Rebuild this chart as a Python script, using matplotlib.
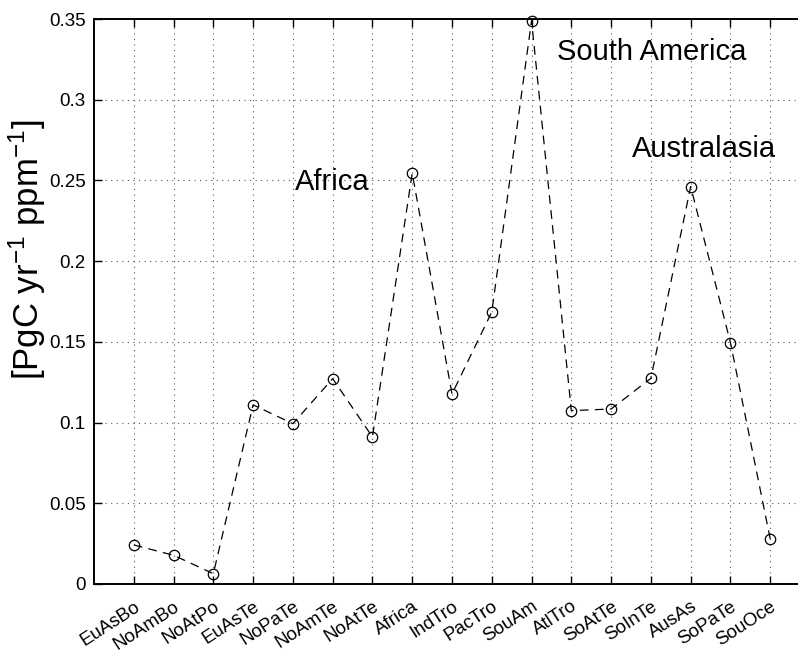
import matplotlib
matplotlib.use('Agg')
import matplotlib.pyplot as plt

regions = ['EuAsBo', 'NoAmBo', 'NoAtPo', 'EuAsTe', 'NoPaTe', 'NoAmTe', 'NoAtTe',
           'Africa', 'IndTro', 'PacTro', 'SouAm', 'AtlTro', 'SoAtTe', 'SoInTe',
           'AusAs', 'SoPaTe', 'SouOce']
values = [0.0242, 0.0178, 0.0064, 0.111, 0.0993, 0.1272, 0.0911,
          0.2545, 0.1177, 0.1685, 0.349, 0.1074, 0.1084, 0.1274,
          0.2462, 0.1495, 0.0279]
yticks = [0, 0.05, 0.1, 0.15, 0.2, 0.25, 0.3, 0.35]
annotations = [('Africa', 5.05, 0.2441), ('South America', 11.64, 0.3247),
               ('Australasia', 13.52, 0.2646)]

plt.rcParams['font.family'] = ['Liberation Sans', 'DejaVu Sans']
plt.rcParams['mathtext.default'] = 'regular'

fig = plt.figure(figsize=(7.98, 6.5), dpi=100)
ax = fig.add_axes([94 / 798, 66 / 650, 716 / 798, 565 / 650])

x = list(range(1, len(regions) + 1))
ax.plot(x, values, 'k--', linewidth=0.9, dashes=(7, 5),
        marker='o', markersize=7.5, markerfacecolor='none',
        markeredgecolor='k', markeredgewidth=0.9, clip_on=False)

ax.set_xlim(0, 18)
ax.set_ylim(0, 0.35)
ax.set_xticks(x)
ax.set_xticklabels(regions, rotation=33, ha='right', rotation_mode='anchor',
                   fontsize=13.5)
ax.set_yticks(yticks)
ax.set_yticklabels(['%g' % v for v in yticks], fontsize=13.5)
ax.tick_params(direction='in', top=True, right=True, length=6, width=1,
               pad=6)
ax.tick_params(axis='x', pad=10)
ax.grid(True, linestyle=(0, (1, 4)), color='#555555', linewidth=0.8)
for s in ax.spines.values():
    s.set_linewidth(1.4)

ax.set_ylabel('[PgC yr$^{-1}$ ppm$^{-1}$]', fontsize=25)
ax.yaxis.set_label_coords(-0.064, 0.592)

for txt, tx, ty in annotations:
    ax.text(tx, ty, txt, fontsize=21, ha='left', va='baseline')

fig.savefig('out.png', dpi=100)
